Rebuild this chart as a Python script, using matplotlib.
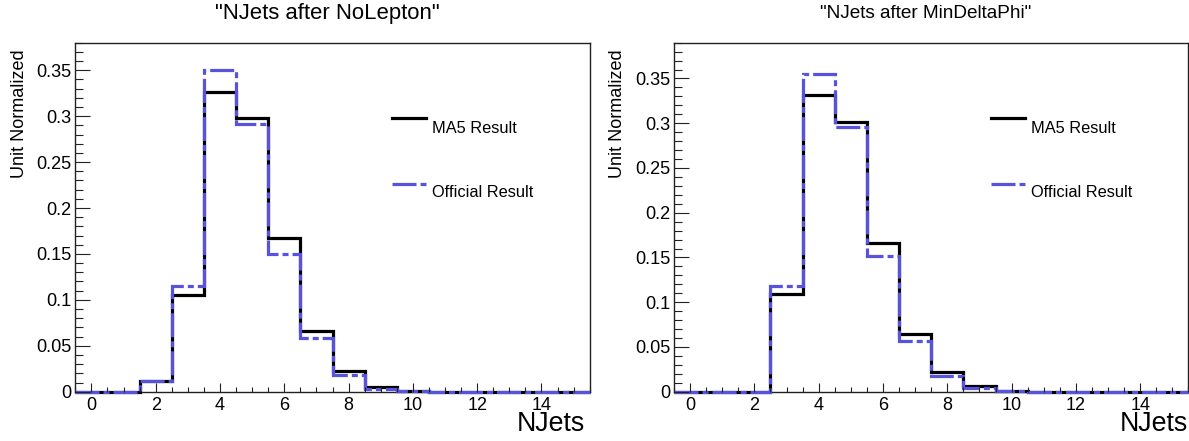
import matplotlib
matplotlib.use("Agg")
import matplotlib.pyplot as plt
from matplotlib.lines import Line2D
from matplotlib.ticker import MultipleLocator, FuncFormatter
import numpy as np

plt.rcParams['font.family'] = ['Liberation Sans', 'DejaVu Sans']
plt.rcParams['lines.scale_dashes'] = False

# Jet multiplicity bins: 0 .. 15 jets
njets = np.arange(16)
bin_edges = np.arange(17) - 0.5

# Selection "NoLepton"
nolepton_ma5 = [0, 0, 0.0117, 0.105, 0.326, 0.298, 0.167, 0.066, 0.022, 0.0055, 0.001, 0, 0, 0, 0, 0]
nolepton_official = [0, 0, 0.0117, 0.1155, 0.350, 0.292, 0.150, 0.059, 0.018, 0.003, 0.001, 0, 0, 0, 0, 0]

# Selection "MinDeltaPhi"
mindphi_ma5 = [0, 0, 0, 0.109, 0.332, 0.301, 0.166, 0.064, 0.022, 0.0065, 0.001, 0, 0, 0, 0, 0]
mindphi_official = [0, 0, 0, 0.118, 0.355, 0.296, 0.152, 0.057, 0.0175, 0.004, 0.001, 0, 0, 0, 0, 0]

titles = ['"NJets after NoLepton"', '"NJets after MinDeltaPhi"']
title_sizes = [15.9, 13.7]
legend_labels = ["MA5 Result", "Official Result"]
y_tops = [0.38, 0.39]

ma5_color = "black"
official_color = "#5853dd"
official_dashes = (17.3, 2.9, 4.3, 2.9)

W, H = 1189, 441
fig = plt.figure(figsize=(W / 100, H / 100), dpi=100)

panels = [
    (nolepton_ma5, nolepton_official),
    (mindphi_ma5, mindphi_official),
]
ax_lefts = [75.3, 674.0]
ax_w = 514.4
ax_bottom = 391.7
ax_h = 349.0

for i, (ma5, official) in enumerate(panels):
    x0 = ax_lefts[i]
    ax = fig.add_axes([x0 / W, (H - ax_bottom) / H, ax_w / W, ax_h / H])

    ax.stairs(ma5, bin_edges, baseline=None, color=ma5_color, lw=2.3, clip_on=False)
    off = ax.stairs(official, bin_edges, baseline=None, color=official_color, lw=2.3, clip_on=False)
    off.set_linestyle((0, official_dashes))

    ax.set_xlim(-0.5, 15.5)
    ax.set_ylim(0, y_tops[i])

    ax.xaxis.set_major_locator(MultipleLocator(2))
    ax.xaxis.set_minor_locator(MultipleLocator(0.5))
    ax.yaxis.set_major_locator(MultipleLocator(0.05))
    ax.yaxis.set_minor_locator(MultipleLocator(0.01))
    ax.yaxis.set_major_formatter(FuncFormatter(lambda v, p: "%g" % round(v, 3)))

    ax.tick_params(axis='both', which='both', direction='in', top=False, right=False,
                   width=0.8, color='#222222')
    ax.tick_params(axis='y', which='major', length=10.8, pad=2.6, labelsize=13.1)
    ax.tick_params(axis='y', which='minor', length=5.8)
    ax.tick_params(axis='x', which='major', length=6.5, pad=4.0, labelsize=13.0)
    ax.tick_params(axis='x', which='minor', length=3.3)

    for sp in ax.spines.values():
        sp.set_linewidth(1.0)
        sp.set_color('#222222')
        sp.set_zorder(0.5)

    # Legend entries
    lx0, lx1, tx = 0.616, 0.682, 0.694
    ax.add_line(Line2D([lx0, lx1], [0.784, 0.784], transform=ax.transAxes,
                       color=ma5_color, lw=2.3, clip_on=False))
    leg2 = Line2D([lx0, lx1], [0.594, 0.594], transform=ax.transAxes,
                  color=official_color, lw=2.3, clip_on=False)
    leg2.set_linestyle((0, official_dashes))
    ax.add_line(leg2)
    ax.text(tx, 0.755, legend_labels[0], transform=ax.transAxes, va='center', ha='left', fontsize=11.8)
    ax.text(tx, 0.571, legend_labels[1], transform=ax.transAxes, va='center', ha='left', fontsize=11.8)

    # Titles and axis labels
    cx = 327.5 if i == 0 else 926.0
    fig.text(cx / W, 1 - 13.3 / H, titles[i], ha='center', va='center', fontsize=title_sizes[i])
    ylab_x = 20.0 if i == 0 else 618.0
    fig.text(ylab_x / W, 1 - 49.3 / H, "Unit Normalized", rotation=90, ha='center', va='top', fontsize=13)
    xlab_x = 585.0 if i == 0 else 1188.0
    fig.text(xlab_x / W, 1 - 431 / H, "NJets", ha='right', va='baseline', fontsize=19.3)

fig.savefig("out.png", dpi=100)
